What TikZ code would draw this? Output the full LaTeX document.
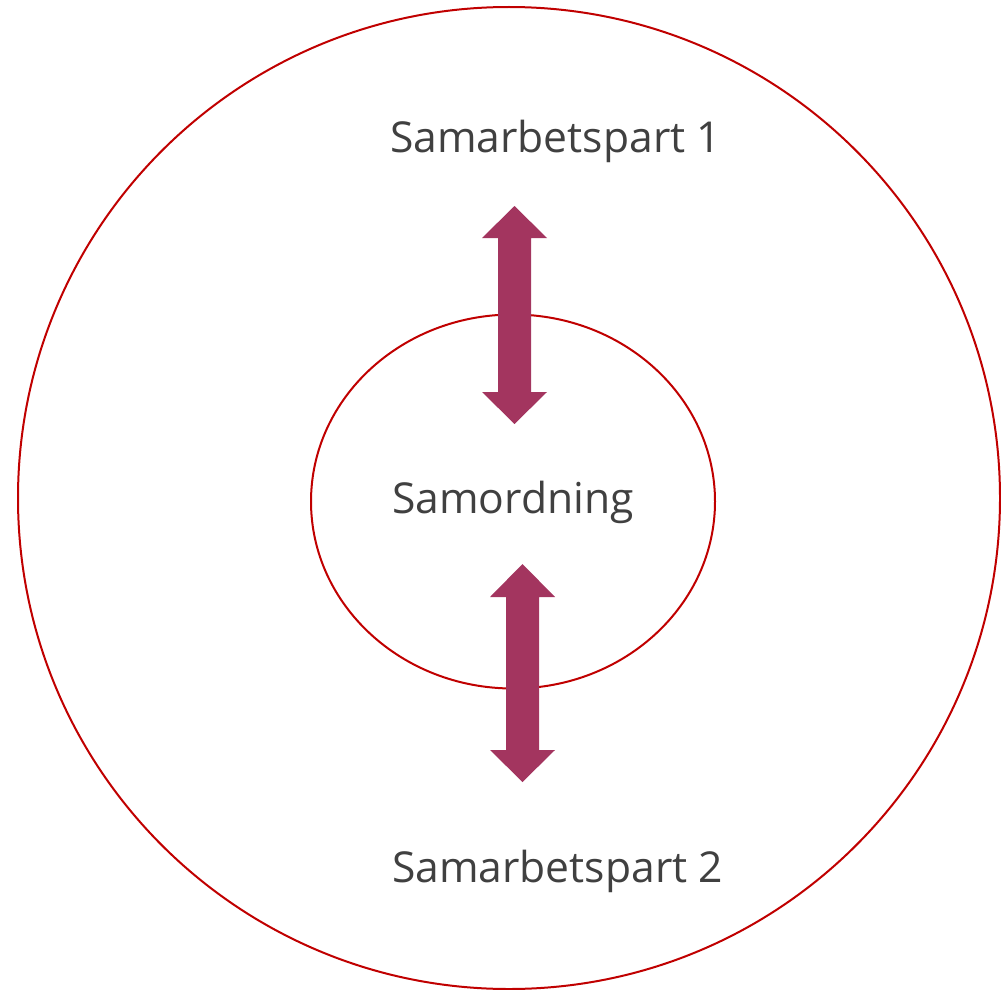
\documentclass[tikz,border=0pt]{standalone}
\usepackage{fontspec}
\setmainfont{Open Sans}
\definecolor{ringred}{HTML}{C00000}
\definecolor{arrowplum}{HTML}{A3355F}
\definecolor{textgray}{HTML}{404040}
\begin{document}
\begin{tikzpicture}[x=1pt,y=-1pt,
  ring/.style={draw=ringred,line width=2pt},
  lbl/.style={anchor=base,text=textgray,font=\fontsize{42.6}{49}\selectfont,inner sep=0pt},
  dblarrow/.style={fill=arrowplum,draw=none}]
\useasboundingbox (0,0) rectangle (1001,990);
\draw[ring] (509,498) circle[radius=491];
\draw[ring] (513,501.5) ellipse[x radius=202,y radius=187];
\node[lbl] (p1) at (555.5,152) {Samarbetspart 1};
\node[lbl] (core) at (513,513) {Samordning};
\node[lbl] (p2) at (557.5,882) {Samarbetspart 2};
% arrow 1
\fill[dblarrow] (514.5,206) -- (547,238) -- (531,238) -- (531,392) -- (547,392) -- (514.5,424)
  -- (482,392) -- (498,392) -- (498,238) -- (482,238) -- cycle;
% arrow 2
\fill[dblarrow] (522.5,564) -- (555,597) -- (539,597) -- (539,750) -- (555,750) -- (522.5,782)
  -- (490,750) -- (506,750) -- (506,597) -- (490,597) -- cycle;
\end{tikzpicture}
\end{document}
